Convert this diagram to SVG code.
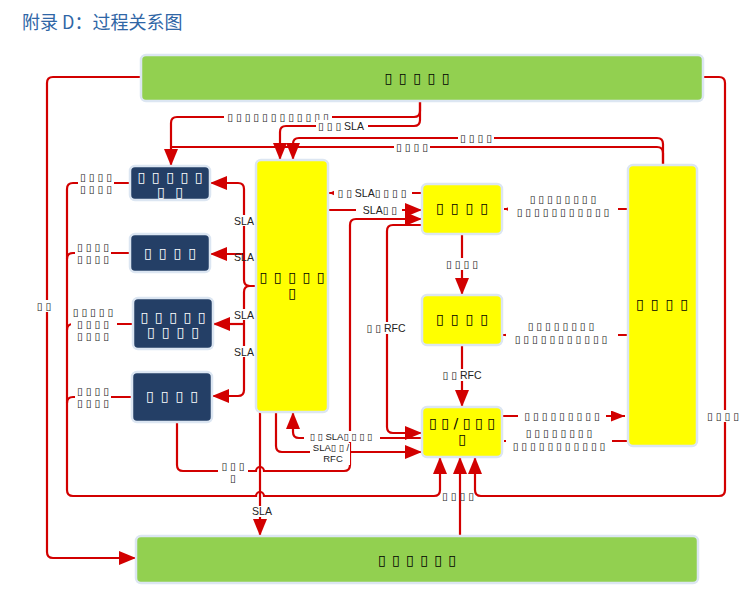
<svg xmlns="http://www.w3.org/2000/svg" width="746" height="616" viewBox="0 0 746 616">
<style>
.c{fill:none;stroke:#D20000;stroke-width:2.2}
.node rect{stroke:#DCE6F2;stroke-width:2.5}
.g{fill:#92D050}
.y{fill:#FFFF00}
.b{fill:#243F66}
.nt{font-family:"DejaVu Sans",sans-serif;font-size:14px;text-anchor:middle;fill:#000}
.wt{fill:#fff}
.l{font-family:"Liberation Sans","DejaVu Sans",sans-serif;font-size:10.5px;text-anchor:middle;fill:#222}
.s{font-size:9.5px}
.bg{fill:#fff}
</style>
<defs>
<marker id="ah" markerUnits="userSpaceOnUse" markerWidth="18" markerHeight="14" refX="17" refY="7" orient="auto"><path d="M0,0 L17,7 L0,14 z" fill="#D20000"/></marker>
<marker id="am" markerUnits="userSpaceOnUse" markerWidth="14" markerHeight="11" refX="14" refY="5.5" orient="auto"><path d="M0,0 L14,5.5 L0,11 z" fill="#D20000"/></marker>
<marker id="as" markerUnits="userSpaceOnUse" markerWidth="8" markerHeight="7" refX="8" refY="3.5" orient="auto"><path d="M0,0 L8,3.5 L0,7 z" fill="#D20000"/></marker>
</defs>
<rect width="746" height="616" fill="#fff"/>
<text x="22" y="29" font-family="'Noto Sans CJK SC',sans-serif" font-size="18" fill="#2F66A6">附录 D：过程关系图</text>

<g id="connectors">
<path class="c" d="M420,101 V111 Q420,117 414,117 H177 Q171,117 171,123 V166" marker-end="url(#ah)"/>
<path class="c" d="M420,101 V120 Q420,126 414,126 H286 Q280,126 280,132 V160" marker-end="url(#ah)"/>
<path class="c" d="M663,165 V144 Q663,138 657,138 H299 Q293,138 293,144 V160" marker-end="url(#ah)"/>
<path class="c" d="M663,165 V153 Q663,147 657,147 H171"/>
<path class="c" d="M141,77 H53 Q47,77 47,83 V552 Q47,558 53,558 H136" marker-end="url(#ah)"/>
<path class="c" d="M703,77 H719 Q725,77 725,83 V490 Q725,496 719,496 H481 Q475,496 475,490 V457" marker-end="url(#ah)"/>
<path class="c" d="M130,183 H73 Q67,183 67,189 V490 Q67,496 73,496 H256 A4,4 0 0 1 264,496 H434 Q440,496 440,490 V457" marker-end="url(#ah)"/>
<path class="c" d="M130,253 H73 Q67,253 67,259"/>
<path class="c" d="M133,324 H73 Q67,324 67,330"/>
<path class="c" d="M132,397 H73 Q67,397 67,403"/>
<path class="c" d="M460,536 V457" marker-end="url(#ah)"/>
<path class="c" d="M260,412 V536" marker-end="url(#ah)"/>
<path class="c" d="M177,422 V465 Q177,471 183,471 H256 A4,4 0 0 1 264,471 H344 Q350,471 350,465 V225 Q350,219 356,219 H422" marker-end="url(#ah)"/>
<path class="c" d="M276,412 V446 Q276,452 282,452 H422" marker-end="url(#ah)"/>
<path class="c" d="M422,438 H299 Q293,438 293,432 V412" marker-end="url(#ah)"/>
<path class="c" d="M422,225 H393 Q387,225 387,231 V427 Q387,433 393,433 H422" marker-end="url(#ah)"/>
<path class="c" d="M328,210 H422" marker-end="url(#ah)"/>
<path class="c" d="M422,193 H329" marker-end="url(#as)"/>
<path class="c" d="M256,286 H250 Q244,286 244,280 V189 Q244,183 238,183 H210" marker-end="url(#ah)"/>
<path class="c" d="M244,254 H210" marker-end="url(#ah)"/>
<path class="c" d="M256,286 H250 Q244,286 244,292 V390 Q244,396 238,396 H212" marker-end="url(#ah)"/>
<path class="c" d="M244,324 H213" marker-end="url(#ah)"/>
<path class="c" d="M462,234 V295" marker-end="url(#ah)"/>
<path class="c" d="M462,345 V407" marker-end="url(#ah)"/>
<path class="c" d="M628,209 H504" marker-end="url(#as)"/>
<path class="c" d="M628,335 H503" marker-end="url(#as)"/>
<path class="c" d="M502,416 H625" marker-end="url(#am)"/>
<path class="c" d="M628,441 H504" marker-end="url(#as)"/>

<g id="labels">
<rect class="bg" x="224" y="111" width="108" height="12"/>
<text class="l" x="278" y="121">▯ ▯ ▯ ▯ ▯ ▯ ▯ ▯ ▯ ▯ ▯ ▯</text>
<rect class="bg" x="316" y="120" width="52" height="12"/>
<text class="l" x="341" y="130">▯ ▯ ▯ SLA</text>
<rect class="bg" x="458" y="132" width="36" height="12"/>
<text class="l" x="476" y="142">▯ ▯ ▯ ▯</text>
<rect class="bg" x="394" y="141" width="36" height="12"/>
<text class="l" x="412" y="151">▯ ▯ ▯ ▯</text>
<rect class="bg" x="36" y="300" width="16" height="12"/>
<text class="l" x="44" y="310">▯ ▯</text>
<rect class="bg" x="704" y="410" width="38" height="12"/>
<text class="l" x="723" y="420">▯ ▯ ▯ ▯</text>
<text class="l" x="458" y="500">▯ ▯ ▯ ▯</text>
<rect class="bg" x="78" y="171" width="36" height="24"/>
<text class="l" x="96" y="181">▯ ▯ ▯ ▯</text>
<text class="l" x="96" y="193">▯ ▯ ▯ ▯</text>
<rect class="bg" x="75" y="241" width="36" height="24"/>
<text class="l" x="93" y="251">▯ ▯ ▯ ▯</text>
<text class="l" x="93" y="263">▯ ▯ ▯ ▯</text>
<rect class="bg" x="71" y="306" width="46" height="36"/>
<text class="l" x="93" y="316">▯ ▯ ▯ ▯ ▯</text>
<text class="l" x="93" y="328">▯ ▯ ▯ ▯</text>
<text class="l" x="93" y="340">▯ ▯ ▯ ▯</text>
<rect class="bg" x="75" y="385" width="36" height="24"/>
<text class="l" x="93" y="395">▯ ▯ ▯ ▯</text>
<text class="l" x="93" y="407">▯ ▯ ▯ ▯</text>
<rect class="bg" x="218" y="460" width="30" height="24"/>
<text class="l" x="233" y="470">▯ ▯ ▯</text>
<text class="l" x="233" y="482">▯</text>
<rect class="bg" x="250" y="506" width="24" height="11"/>
<text class="l" x="262" y="515">SLA</text>
<rect class="bg" x="233" y="215" width="22" height="11"/>
<text class="l" x="244" y="225">SLA</text>
<text class="l" x="244" y="261">SLA</text>
<rect class="bg" x="233" y="309" width="22" height="11"/>
<text class="l" x="244" y="319">SLA</text>
<rect class="bg" x="233" y="346" width="22" height="11"/>
<text class="l" x="244" y="356">SLA</text>
<rect class="bg" x="334" y="187" width="78" height="12"/>
<text class="l" x="372" y="197">▯ ▯ SLA▯ ▯ ▯ ▯</text>
<rect class="bg" x="356" y="204" width="46" height="12"/>
<text class="l" x="380" y="214">SLA▯ ▯</text>
<rect class="bg" x="364" y="322" width="44" height="12"/>
<text class="l" x="386" y="332">▯ ▯ RFC</text>
<rect class="bg" x="440" y="258" width="44" height="12"/>
<text class="l" x="462" y="268">▯ ▯ ▯ ▯</text>
<rect class="bg" x="440" y="369" width="44" height="12"/>
<text class="l" x="462" y="379">▯ ▯ RFC</text>
<rect class="bg" x="304" y="431" width="76" height="11"/>
<text class="l s" x="341" y="440">▯ ▯ SLA▯ ▯ ▯ ▯</text>
<rect class="bg" x="310" y="443" width="40" height="22"/>
<text class="l s" x="331" y="451">SLA▯ ▯ /</text>
<text class="l s" x="333" y="462">RFC</text>
<rect class="bg" x="508" y="193" width="110" height="24"/>
<text class="l" x="563" y="203">▯ ▯ ▯ ▯ ▯ ▯ ▯ ▯</text>
<text class="l" x="563" y="216">▯ ▯ ▯ ▯ ▯ ▯ ▯ ▯ ▯ ▯ ▯</text>
<rect class="bg" x="506" y="319" width="112" height="25"/>
<text class="l" x="561" y="330">▯ ▯ ▯ ▯ ▯ ▯ ▯ ▯</text>
<text class="l" x="561" y="343">▯ ▯ ▯ ▯ ▯ ▯ ▯ ▯ ▯ ▯ ▯</text>
<rect class="bg" x="518" y="410" width="88" height="12"/>
<text class="l" x="562" y="420">▯ ▯ ▯ ▯ ▯ ▯ ▯ ▯ ▯</text>
<rect class="bg" x="506" y="426" width="106" height="25"/>
<text class="l" x="559" y="437">▯ ▯ ▯ ▯ ▯ ▯ ▯ ▯</text>
<text class="l" x="559" y="450">▯ ▯ ▯ ▯ ▯ ▯ ▯ ▯ ▯ ▯ ▯</text>
</g>
</g>

<g id="top" class="node"><rect class="g" x="141" y="55" width="562" height="46" rx="5"/><text class="nt" x="417" y="83" textLength="65" lengthAdjust="spacing">▯▯▯▯▯</text></g>
<g id="bottom" class="node"><rect class="g" x="136" y="536" width="562" height="47" rx="5"/><text class="nt" x="417" y="565" textLength="78" lengthAdjust="spacing">▯▯▯▯▯▯</text></g>
<g id="nodeA" class="node"><rect class="b" x="130" y="166" width="80" height="34" rx="5"/><text class="nt wt" x="170" y="182" textLength="65" lengthAdjust="spacing">▯▯▯▯▯</text><text class="nt wt" x="170" y="197" textLength="26" lengthAdjust="spacing">▯▯</text></g>
<g id="nodeB" class="node"><rect class="b" x="130" y="234" width="80" height="38" rx="5"/><text class="nt wt" x="170" y="258" textLength="52" lengthAdjust="spacing">▯▯▯▯</text></g>
<g id="nodeC" class="node"><rect class="b" x="133" y="298" width="80" height="51" rx="5"/><text class="nt wt" x="173" y="322" textLength="65" lengthAdjust="spacing">▯▯▯▯▯</text><text class="nt wt" x="173" y="337" textLength="52" lengthAdjust="spacing">▯▯▯▯</text></g>
<g id="nodeD" class="node"><rect class="b" x="132" y="372" width="80" height="50" rx="5"/><text class="nt wt" x="172" y="401" textLength="52" lengthAdjust="spacing">▯▯▯▯</text></g>
<g id="nodeE" class="node"><rect class="y" x="256" y="160" width="72" height="252" rx="5"/><text class="nt" x="292" y="282" textLength="65" lengthAdjust="spacing">▯▯▯▯▯</text><text class="nt" x="292" y="298">▯</text></g>
<g id="nodeF" class="node"><rect class="y" x="422" y="184" width="80" height="50" rx="5"/><text class="nt" x="462" y="213" textLength="52" lengthAdjust="spacing">▯▯▯▯</text></g>
<g id="nodeG" class="node"><rect class="y" x="422" y="295" width="80" height="50" rx="5"/><text class="nt" x="462" y="324" textLength="52" lengthAdjust="spacing">▯▯▯▯</text></g>
<g id="nodeH" class="node"><rect class="y" x="422" y="407" width="80" height="50" rx="5"/><text class="nt" x="462" y="428" textLength="66" lengthAdjust="spacing">▯▯/▯▯▯</text><text class="nt" x="462" y="444">▯</text></g>
<g id="nodeI" class="node"><rect class="y" x="628" y="165" width="69" height="281" rx="5"/><text class="nt" x="662" y="309" textLength="52" lengthAdjust="spacing">▯▯▯▯</text></g>
</svg>
